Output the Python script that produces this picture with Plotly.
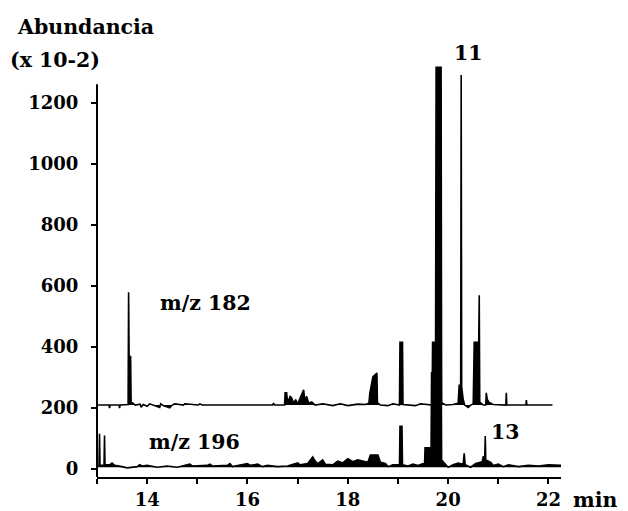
import plotly.graph_objects as go

# ---- data ----
offset_182 = 210   # displayed baseline of the m/z 182 trace
offset_196 = 6     # displayed baseline of the m/z 196 trace

times_182 = [
    13.00, 13.24, 13.25, 13.26, 13.44, 13.45, 13.46,
    13.62, 13.63, 13.64, 13.67, 13.68, 13.72, 13.76,
    13.86, 13.88, 13.92, 14.00, 14.05, 14.12, 14.25,
    14.27, 14.32, 14.45, 14.50, 14.55, 14.72, 14.75,
    15.02, 15.05, 15.10, 16.50, 16.52, 16.54, 16.74,
    16.75, 16.78, 16.80, 16.85, 16.88, 16.92, 16.96,
    17.00, 17.05, 17.10, 17.12, 17.14, 17.18, 17.22,
    17.28, 17.35, 17.50, 17.70, 17.85, 18.00, 18.20,
    18.35, 18.42, 18.44, 18.46, 18.50, 18.58, 18.59,
    18.65, 18.80, 18.90, 19.03, 19.04, 19.09, 19.10,
    19.20, 19.35, 19.45, 19.60, 19.68, 19.69, 19.75,
    19.76, 19.86, 19.87, 19.95, 20.10, 20.20, 20.22,
    20.25, 20.26, 20.27, 20.30, 20.33, 20.40, 20.45,
    20.50, 20.52, 20.61, 20.62, 20.63, 20.70, 20.75,
    20.76, 20.78, 20.82, 20.90, 21.15, 21.16, 21.17,
    21.55, 21.56, 21.57, 22.08,
]
intensity_182 = [
    0, 0, -10, 0, 0, -10, 0,
    2, 370, 157, 160, 8, 6, 0,
    3, -7, 2, -4, 4, 0, -8,
    4, -2, -9, 0, 4, 0, 4,
    0, 4, 0, 0, 6, 0, 0,
    40, 40, 8, 28, 23, 6, 18,
    3, 23, 46, 50, 16, 28, 6,
    10, 0, 4, -2, 4, -2, 3,
    2, 6, 40, 62, 92, 105, 8,
    0, -2, 4, 0, 206, 206, 2,
    0, -2, 4, 0, 0, 206, 206,
    1108, 1108, 8, 0, 2, 6, 65,
    65, 1082, 60, 18, 0, -8, 0,
    4, 206, 206, 360, 10, 0, 0,
    40, 18, 8, 2, 0, 40, 0,
    0, 16, 0, 0,
]

times_196 = [
    13.00, 13.04, 13.05, 13.06, 13.14, 13.15, 13.16,
    13.25, 13.30, 13.35, 13.50, 13.60, 13.80, 13.85,
    13.90, 14.00, 14.20, 14.40, 14.60, 14.80, 14.85,
    14.90, 15.20, 15.25, 15.30, 15.60, 15.65, 15.70,
    15.90, 16.00, 16.05, 16.20, 16.30, 16.40, 16.60,
    16.80, 17.00, 17.05, 17.20, 17.30, 17.35, 17.40,
    17.50, 17.55, 17.70, 17.80, 17.90, 18.00, 18.10,
    18.20, 18.40, 18.45, 18.60, 18.65, 18.75, 18.80,
    18.90, 19.03, 19.04, 19.08, 19.09, 19.20, 19.30,
    19.40, 19.50, 19.53, 19.54, 19.66, 19.67, 19.68,
    19.69, 19.70, 19.86, 19.87, 19.95, 20.00, 20.10,
    20.20, 20.30, 20.32, 20.34, 20.45, 20.55, 20.68,
    20.70, 20.73, 20.74, 20.75, 20.85, 20.90, 21.00,
    21.10, 21.20, 21.40, 21.60, 21.80, 22.00, 22.25,
]
intensity_196 = [
    4, 4, 110, 6, 6, 104, 8,
    8, 14, 6, 2, -2, 2, 8,
    4, 6, 0, 4, 0, 6, 10,
    4, 6, 10, 4, 6, 12, 2,
    8, 12, 6, 10, 2, 6, 2,
    4, 14, 8, 12, 34, 20, 12,
    24, 10, 8, 20, 14, 28, 18,
    24, 16, 40, 40, 16, 12, 2,
    8, 8, 134, 134, 8, 4, 10,
    6, 12, 10, 64, 64, 312, 74,
    74, 400, 400, 24, 8, 0, 8,
    14, 10, 46, 8, 0, 12, 18,
    34, 34, 102, 24, 16, 6, 10,
    2, 8, 2, 6, 4, 8, 6,
]

x_ticks = [14, 16, 18, 20, 22]
x_minor_ticks = [13, 15, 17, 19, 21]
y_ticks = [0, 200, 400, 600, 800, 1000, 1200]

assert len(times_182) == len(intensity_182)
assert len(times_196) == len(intensity_196)

FONT = "DejaVu Serif"

fig = go.Figure()

# m/z 182 (baseline + filled signal)
fig.add_trace(go.Scatter(x=[times_182[0], times_182[-1]], y=[offset_182, offset_182],
                         mode="lines", line=dict(width=0, color="black"),
                         showlegend=False, hoverinfo="skip"))
fig.add_trace(go.Scatter(x=times_182, y=[offset_182 + v for v in intensity_182],
                         mode="lines", line=dict(color="black", width=1.6),
                         fill="tonexty", fillcolor="black", showlegend=False))

# m/z 196
fig.add_trace(go.Scatter(x=[times_196[0], times_196[-1]], y=[offset_196, offset_196],
                         mode="lines", line=dict(width=0, color="black"),
                         showlegend=False, hoverinfo="skip"))
fig.add_trace(go.Scatter(x=times_196, y=[offset_196 + v for v in intensity_196],
                         mode="lines", line=dict(color="black", width=1.6),
                         fill="tonexty", fillcolor="black", showlegend=False))

lab_font = dict(family=FONT, size=20.5, color="black", weight="bold")
tick_font = dict(family=FONT, size=18, color="black", weight="bold")


def ann(text, x, y, xref="x", yref="y"):
    return dict(text=text, x=x, y=y, xref=xref, yref=yref, showarrow=False,
                xanchor="center", yanchor="middle", font=lab_font)


annotations = [
    ann("11", 20.40, 1.022, "x", "paper"),
    ann("13", 21.14, 121),
    ann("m/z 182", 15.17, 544),
    ann("m/z 196", 14.94, 89),
    ann("Abundancia", -0.024, 1.084, "paper", "paper"),
    ann("(x 10-2)", -0.091, 1.005, "paper", "paper"),
    ann("min", 1.074, -0.055, "paper", "paper"),
]

fig.update_layout(
    width=628, height=511,
    margin=dict(l=97, r=67, t=62, b=34),
    plot_bgcolor="white", paper_bgcolor="white",
    showlegend=False,
    annotations=annotations,
    xaxis=dict(range=[13, 22.25], showline=True, linecolor="black", linewidth=2,
               ticks="outside", ticklen=5, tickwidth=1.5, tickcolor="black",
               tickvals=x_ticks, ticktext=[str(v) for v in x_ticks],
               minor=dict(tickvals=x_minor_ticks, ticks="outside", ticklen=5,
                          tickwidth=1.5, tickcolor="black"),
               showgrid=False, zeroline=False, tickfont=tick_font, automargin=False),
    yaxis=dict(range=[-26, 1335], showline=False,
               ticks="outside", ticklen=5, tickwidth=1.5, tickcolor="black",
               tickvals=y_ticks, ticktext=[str(v) for v in y_ticks],
               ticklabelstandoff=9,
               showgrid=False, zeroline=False, tickfont=tick_font, automargin=False),
    shapes=[dict(type="line", xref="paper", yref="y", x0=0, x1=0, y0=-26, y1=1262,
                 line=dict(color="black", width=2))],
)

fig.write_html("out.html")
